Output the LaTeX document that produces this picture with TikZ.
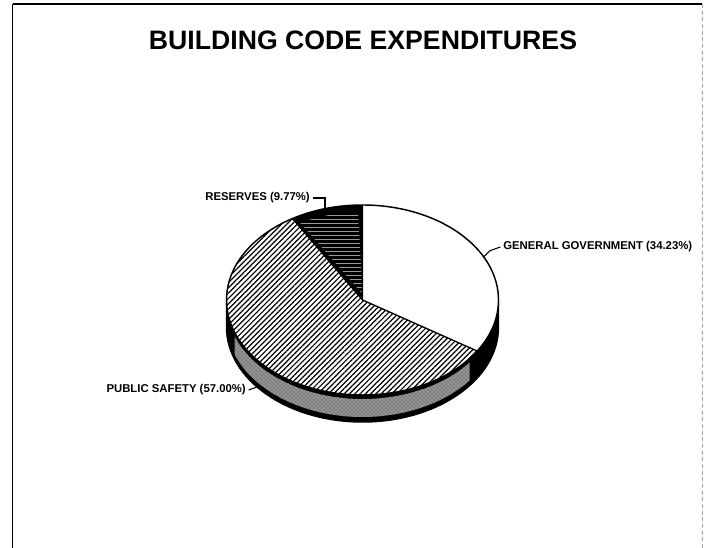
\documentclass[tikz,border=0pt]{standalone}
\usepackage{fontspec}
\setmainfont{Liberation Sans}
\usetikzlibrary{patterns,patterns.meta}

\begin{document}
\begin{tikzpicture}[x=0.75pt,y=0.75pt,
        lbl/.style={font=\bfseries\fontsize{8.5}{10}\selectfont, inner sep=0pt},
        ttl/.style={font=\bfseries\fontsize{20}{24}\selectfont, inner sep=0pt},
        pieedge/.style={draw=black, line width=1.1pt}]
                \useasboundingbox (0,0) rectangle (704,548);
                %frame
                \draw[line width=1.2pt] (12.5,0) -- (12.5,544);
                \draw[line width=0.8pt] (12.5,544) -- (702,544);
                \draw[gray!70, densely dashed, line width=0.6pt] (702,544) -- (702,0);
                %pie
                \begin{scope}[shift={(362.5,248)}]
                    %side
                    \fill[black] (180:136 and 95) arc[start angle=180, end angle=360, x radius=136, y radius=95]
                        -- ++(0,-27) arc[start angle=360, end angle=180, x radius=136, y radius=95] -- cycle;
                    \fill[black!50] (200:136 and 95) ++(0,-4) arc[start angle=200, end angle=322, x radius=136, y radius=95]
                        -- ++(0,-18) arc[start angle=322, end angle=200, x radius=136, y radius=95] -- cycle;
                    \fill[pattern=crosshatch dots, pattern color=white!85!black]
                        (200:136 and 95) ++(0,-4) arc[start angle=200, end angle=322, x radius=136, y radius=95]
                        -- ++(0,-18) arc[start angle=322, end angle=200, x radius=136, y radius=95] -- cycle;
                    \draw[pieedge] (180:136 and 95) -- ++(0,-27)
                        arc[start angle=180, end angle=360, x radius=136, y radius=95] -- ++(0,27);
                    %slices
                    \fill[white] (0,0) -- (-32.5:136 and 95)
                        arc[start angle=-32.5, end angle=90, x radius=136, y radius=95] -- cycle;
                    \fill[pattern={Lines[angle=45, distance=2.8pt, line width=0.9pt]}] (0,0) -- (121:136 and 95)
                        arc[start angle=121, end angle=327.5, x radius=136, y radius=95] -- cycle;
                    \fill[black] (0,0) -- (90:136 and 95)
                        arc[start angle=90, end angle=121, x radius=136, y radius=95] -- cycle;
                    \fill[pattern=horizontal lines, pattern color=white!60!black] (0,6) -- (92:128 and 88)
                        arc[start angle=92, end angle=119, x radius=128, y radius=88] -- cycle;
                    \draw[line width=1pt] (121:136 and 95) -- (0,0) -- (90:136 and 95);
                    \draw[line width=1pt] (0,0) -- (-32.5:136 and 95);
                    \draw[pieedge] (0,0) ellipse[x radius=136, y radius=95];
                    \coordinate (resrim) at (106:136 and 95);
                    \coordinate (ggrim) at (27:136 and 95);
                \end{scope}
                \coordinate (psrim) at (257,161);
                %labels
                \node[ttl] (title) at (363,508) {BUILDING CODE EXPENDITURES};
                \node[lbl, anchor=east] (res) at (310,350) {RESERVES (9.77\%)};
                \node[lbl, anchor=west] (gg) at (503,301) {GENERAL GOVERNMENT (34.23\%)};
                \node[lbl, anchor=east] (ps) at (246,158) {PUBLIC SAFETY (57.00\%)};
                \draw[line width=0.8pt] ([xshift=2]res.east) -| (resrim);
                \draw[line width=0.8pt] (ggrim) -- ++(6,6) -- ([xshift=-2]gg.west);
                \draw[line width=0.8pt] ([xshift=2]ps.east) -- (psrim);
            \end{tikzpicture}
\end{document}
